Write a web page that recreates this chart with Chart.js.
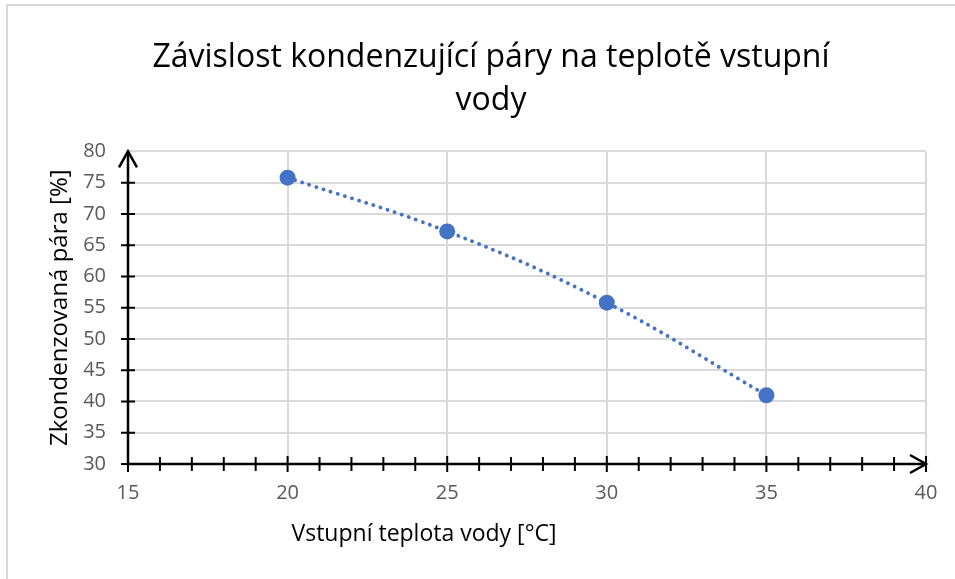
<!DOCTYPE html>
<html>
<head>
<meta charset="utf-8">
<script src="https://cdn.jsdelivr.net/npm/chart.js@4"></script>
<style>
html,body{margin:0;padding:0;background:#fff;}
#wrap{width:955px;height:579px;position:relative;}
</style>
</head>
<body>
<div id="wrap"><canvas id="c" width="955" height="579"></canvas></div>
<script>
const titleLines = ['Závislost kondenzující páry na teplotě vstupní', 'vody'];
const xTitle = 'Vstupní teplota vody [°C]';
const yTitle = 'Zkondenzovaná pára [%]';
const temperatures = [20, 25, 30, 35];
const condensed = [75.8, 67.2, 55.8, 41.0];
const xMin = 15, xMax = 40, xStep = 5, xMinorStep = 1;
const yMin = 30, yMax = 80, yStep = 5;

const FONT = '"Open Sans", sans-serif';

const axesPlugin = {
  id: 'axesPlugin',
  beforeDraw(chart) {
    const ctx = chart.ctx;
    ctx.save();
    ctx.strokeStyle = '#d9d9d9';
    ctx.lineWidth = 2;
    ctx.strokeRect(7, 5, 1200, 1200);
    ctx.restore();
  },
  afterDatasetsDraw(chart) {
    const ctx = chart.ctx;
    const xs = chart.scales.x, ys = chart.scales.y;
    const x0 = xs.getPixelForValue(xMin), x1 = xs.getPixelForValue(xMax);
    const y0 = ys.getPixelForValue(yMin), y1 = ys.getPixelForValue(yMax);
    ctx.save();
    ctx.strokeStyle = '#000';
    ctx.lineWidth = 2.5;
    ctx.lineCap = 'butt';
    ctx.beginPath();
    ctx.moveTo(x0, y0); ctx.lineTo(x1, y0);
    ctx.moveTo(x0, y0); ctx.lineTo(x0, y1);
    ctx.stroke();
    ctx.lineWidth = 2;
    ctx.beginPath();
    for (let v = xMin; v <= xMax; v += xMinorStep) {
      const px = xs.getPixelForValue(v);
      const major = (v % xStep === 0);
      ctx.moveTo(px, y0 - (major ? 8 : 7));
      ctx.lineTo(px, y0 + (major ? 8 : 7));
    }
    for (let v = yMin; v < yMax; v += yStep) {
      const py = ys.getPixelForValue(v);
      ctx.moveTo(x0 - 7, py);
      ctx.lineTo(x0 + 7, py);
    }
    ctx.stroke();
    ctx.lineWidth = 2.5;
    ctx.beginPath();
    ctx.moveTo(x1 - 16, y0 - 9); ctx.lineTo(x1, y0); ctx.lineTo(x1 - 16, y0 + 9);
    ctx.moveTo(x0 - 9, y1 + 16); ctx.lineTo(x0, y1); ctx.lineTo(x0 + 9, y1 + 16);
    ctx.stroke();
    ctx.fillStyle = '#000';
    ctx.textAlign = 'center';
    ctx.textBaseline = 'middle';
    ctx.font = '23px ' + FONT;
    ctx.fillText(xTitle, 424, 534);
    ctx.font = '24px ' + FONT;
    ctx.translate(60, (y0 + y1) / 2);
    ctx.rotate(-Math.PI / 2);
    ctx.fillText(yTitle, 0, 0);
    ctx.restore();
  }
};

new Chart(document.getElementById('c'), {
  type: 'scatter',
  data: {
    datasets: [{
      data: temperatures.map((t, i) => ({x: t, y: condensed[i]})),
      showLine: true,
      tension: 0.4,
      borderColor: '#4472C4',
      backgroundColor: '#4472C4',
      borderWidth: 3.8,
      borderDash: [0.1, 7.4],
      borderCapStyle: 'round',
      pointRadius: 8,
      pointHoverRadius: 8,
      pointBorderWidth: 0
    }]
  },
  options: {
    responsive: false,
    animation: false,
    events: [],
    layout: {padding: {left: 56, right: 29, top: 0, bottom: 0}},
    plugins: {
      legend: {display: false},
      tooltip: {enabled: false},
      title: {
        display: true,
        text: titleLines,
        color: '#000',
        font: {family: FONT, size: 32, weight: 'normal', lineHeight: 1.35},
        padding: {top: 36, bottom: 29}
      }
    },
    scales: {
      x: {
        type: 'linear', min: xMin, max: xMax,
        ticks: {stepSize: xStep, color: '#595959', font: {family: FONT, size: 20}, padding: 17},
        grid: {color: '#d9d9d9', lineWidth: 2, drawTicks: false},
        border: {display: false},
        afterFit(s) { s.height = 579 - 464; }
      },
      y: {
        type: 'linear', min: yMin, max: yMax,
        ticks: {stepSize: yStep, color: '#595959', font: {family: FONT, size: 20}, padding: 22},
        grid: {color: '#d9d9d9', lineWidth: 2, drawTicks: false},
        border: {display: false},
        afterFit(s) { s.width = 128 - 56; }
      }
    }
  },
  plugins: [axesPlugin]
});
</script>
</body>
</html>
